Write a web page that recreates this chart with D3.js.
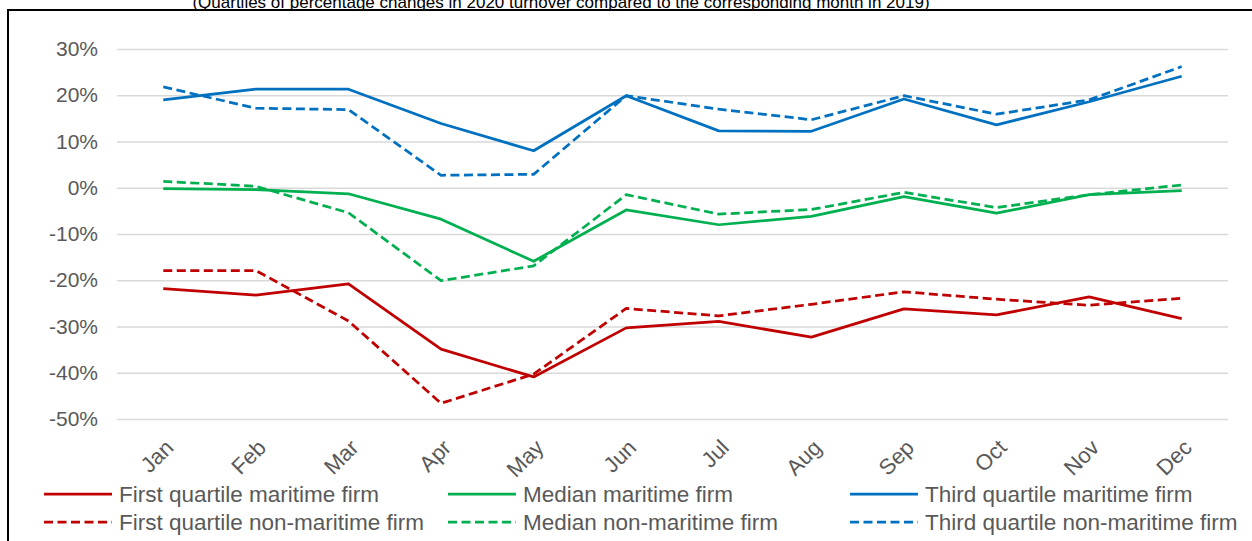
<!DOCTYPE html>
<html>
<head>
<meta charset="utf-8">
<script src="https://cdn.jsdelivr.net/npm/d3@7"></script>
<style>
  body { margin: 0; background: #fff; }
  svg { display: block; font-family: 'Liberation Sans', Arial, sans-serif; }
</style>
</head>
<body>
<svg class="chart"></svg>
<script>
const months = ['Jan', 'Feb', 'Mar', 'Apr', 'May', 'Jun', 'Jul', 'Aug', 'Sep', 'Oct', 'Nov', 'Dec'];
const yTicks = [30, 20, 10, 0, -10, -20, -30, -40, -50];

// percentage changes
const firstMaritime = [-21.8, -23.2, -20.8, -34.9, -40.9, -30.3, -28.9, -32.3, -26.2, -27.5, -23.6, -28.3];
const firstNonMaritime = [-17.9, -17.9, -28.8, -46.6, -40.3, -26.1, -27.7, -25.2, -22.5, -24.1, -25.4, -23.9];
const medianMaritime = [-0.2, -0.4, -1.3, -6.8, -15.9, -4.8, -8.0, -6.2, -1.9, -5.5, -1.5, -0.6];
const medianNonMaritime = [1.4, 0.3, -5.4, -20.1, -16.9, -1.5, -5.7, -4.7, -1.0, -4.3, -1.5, 0.6];
const thirdMaritime = [19.0, 21.3, 21.3, 13.9, 8.0, 19.9, 12.3, 12.2, 19.2, 13.6, 18.6, 24.1];
const thirdNonMaritime = [21.8, 17.2, 16.9, 2.7, 2.9, 19.9, 17.0, 14.7, 19.9, 15.9, 19.0, 26.2];

const seriesNames = [
  'First quartile maritime firm',
  'Median maritime firm',
  'Third quartile maritime firm',
  'First quartile non-maritime firm',
  'Median non-maritime firm',
  'Third quartile non-maritime firm',
];

const series = [
  { name: seriesNames[0], values: firstMaritime, color: '#C00000', dashed: false },
  { name: seriesNames[1], values: medianMaritime, color: '#00B050', dashed: false },
  { name: seriesNames[2], values: thirdMaritime, color: '#0070C0', dashed: false },
  { name: seriesNames[3], values: firstNonMaritime, color: '#C00000', dashed: true },
  { name: seriesNames[4], values: medianNonMaritime, color: '#00B050', dashed: true },
  { name: seriesNames[5], values: thirdNonMaritime, color: '#0070C0', dashed: true },
];

const width = 1252;
const height = 541;
const dash = '9,4.5';

const svg = d3.select('.chart')
  .attr('width', width)
  .attr('height', height);

// outer frame (runs off the right and bottom edges)
svg.append('rect')
  .attr('x', 8)
  .attr('y', 10)
  .attr('width', 1300)
  .attr('height', 600)
  .attr('fill', 'none')
  .attr('stroke', '#000')
  .attr('stroke-width', 2);

svg.append('text')
  .attr('x', 561)
  .attr('y', 8)
  .attr('text-anchor', 'middle')
  .attr('font-size', 17)
  .attr('fill', '#000')
  .text('(Quartiles of percentage changes in 2020 turnover compared to the corresponding month in 2019)');

const x = d3.scalePoint()
  .domain(months)
  .range([117, 1228])
  .padding(0.5);

const y = d3.scaleLinear()
  .domain([-50, 30])
  .range([419, 49]);

// gridlines + y labels
const yAxis = d3.axisLeft(y)
  .tickValues(yTicks)
  .tickSize(-(1228 - 117))
  .tickPadding(19)
  .tickFormat(d => `${d}%`);

const gy = svg.append('g')
  .attr('transform', 'translate(117,0)')
  .call(yAxis);
gy.select('.domain').remove();
gy.selectAll('.tick line')
  .attr('stroke', '#d9d9d9')
  .attr('stroke-width', 1.5);
gy.selectAll('.tick text')
  .attr('font-size', 21)
  .attr('fill', '#595959')
  .attr('font-family', 'Liberation Sans, Arial, sans-serif');

// x labels, rotated
const xAxis = d3.axisBottom(x).tickSize(0).tickPadding(0);
const gx = svg.append('g')
  .attr('transform', 'translate(0,419)')
  .call(xAxis);
gx.select('.domain').remove();
gx.selectAll('.tick text')
  .attr('font-size', 22)
  .attr('fill', '#595959')
  .attr('font-family', 'Liberation Sans, Arial, sans-serif')
  .attr('text-anchor', 'end')
  .attr('dy', null)
  .attr('y', 0)
  .attr('transform', 'translate(11,30) rotate(-45)');

const line = d3.line()
  .x((d, i) => x(months[i]))
  .y(d => y(d));

svg.append('g').selectAll('path')
  .data(series)
  .enter()
  .append('path')
  .attr('d', d => line(d.values))
  .attr('fill', 'none')
  .attr('stroke', d => d.color)
  .attr('stroke-width', 2.75)
  .attr('stroke-linejoin', 'round')
  .attr('stroke-dasharray', d => (d.dashed ? dash : null));

// legend: 3 columns, 2 rows
const legendX = [44, 448, 850];
const legendY = [494, 522];
const legend = svg.append('g').selectAll('g')
  .data(series)
  .enter()
  .append('g')
  .attr('transform', (d, i) => `translate(${legendX[i % 3]},${legendY[Math.floor(i / 3)]})`);

legend.append('line')
  .attr('x1', 0)
  .attr('x2', 68)
  .attr('stroke', d => d.color)
  .attr('stroke-width', 2.75)
  .attr('stroke-dasharray', d => (d.dashed ? dash : null));

legend.append('text')
  .attr('x', 75)
  .attr('y', 8)
  .attr('font-size', 22.5)
  .attr('fill', '#595959')
  .text(d => d.name);
</script>
</body>
</html>
